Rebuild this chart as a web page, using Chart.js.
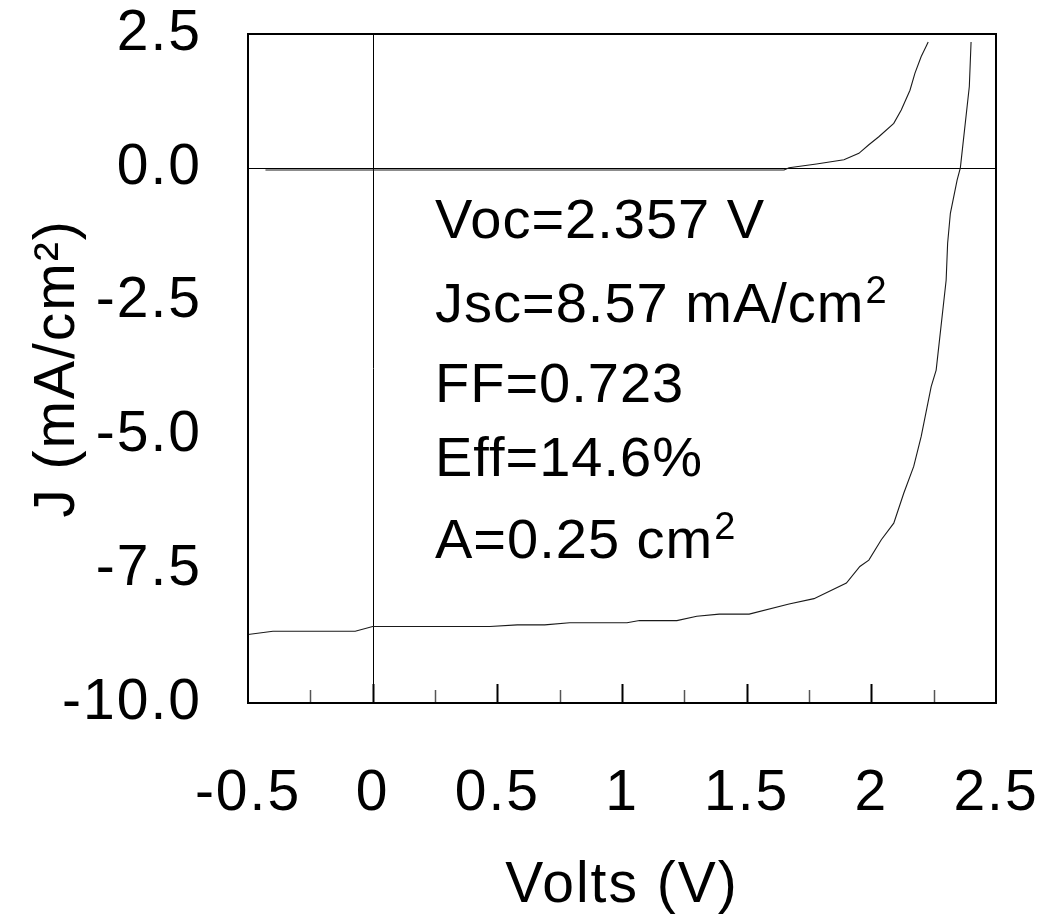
<!DOCTYPE html>
<html>
<head>
<meta charset="utf-8">
<title>J–V curve</title>
<script src="https://cdn.jsdelivr.net/npm/chart.js@4/dist/chart.umd.min.js"></script>
<style>
  html, body { margin: 0; padding: 0; background: #ffffff; }
  #wrap { width: 1042px; height: 922px; }
</style>
</head>
<body>
<div id="wrap"><canvas id="jv" width="1042" height="922"></canvas></div>
<script>
// Illuminated J–V sweep (V in volts, J in mA/cm²)
const lightVolts = [-0.50, -0.40, -0.07, 0.00, 0.04, 0.47, 0.58, 0.69, 0.79, 1.02, 1.07, 1.22, 1.30, 1.39, 1.51, 1.67, 1.77, 1.90, 1.954, 1.99, 2.04, 2.09, 2.13, 2.17, 2.20, 2.24, 2.26, 2.30, 2.306, 2.317, 2.344, 2.357, 2.393, 2.40];
const lightJ     = [-8.72, -8.66, -8.66, -8.57, -8.57, -8.57, -8.54, -8.54, -8.50, -8.50, -8.46, -8.46, -8.38, -8.34, -8.34, -8.15, -8.05, -7.76, -7.45, -7.33, -6.95, -6.64, -6.08, -5.58, -5.02, -4.09, -3.78, -2.10, -1.41, -0.85, -0.23, 0.00, 1.52, 2.35];

// Dark J–V sweep
const darkVolts = [-0.43, 0.50, 1.20, 1.65, 1.67, 1.78, 1.89, 1.95, 1.99, 2.03, 2.09, 2.12, 2.155, 2.175, 2.20, 2.22, 2.228];
const darkJ     = [-0.04, -0.04, -0.04, -0.04, 0.00, 0.07, 0.15, 0.27, 0.43, 0.58, 0.83, 1.08, 1.45, 1.77, 2.08, 2.27, 2.35];

// Cell parameters printed inside the plot
const cellParams = [
  { text: 'Voc=2.357 V', sup: '' },
  { text: 'Jsc=8.57 mA/cm', sup: '2' },
  { text: 'FF=0.723', sup: '' },
  { text: 'Eff=14.6%', sup: '' },
  { text: 'A=0.25 cm', sup: '2' }
];

const FONT = '"Liberation Sans", Arial, Helvetica, sans-serif';

const toPoints = (xs, ys) => xs.map((x, i) => ({ x: x, y: ys[i] }));

// Keep the plot box fixed: tick labels may overhang the page margins
const noOverhang = s => { s.paddingLeft = 0; s.paddingRight = 0; s.paddingTop = 0; s.paddingBottom = 0; };

// Slightly open letter spacing for all axis text
const spacingPlugin = {
  id: 'spacing',
  beforeLayout(chart) { chart.ctx.letterSpacing = '2px'; },
  beforeDraw(chart) { chart.ctx.letterSpacing = '2px'; }
};

// Box, zero axes and inward minor/major ticks along the bottom edge
const framePlugin = {
  id: 'frame',
  beforeDatasetsDraw(chart) {
    const { ctx, chartArea: a, scales: { x, y } } = chart;
    ctx.save();
    ctx.strokeStyle = '#000';
    ctx.lineWidth = 1;
    const y0 = Math.round(y.getPixelForValue(0)) + 0.5;
    const x0 = Math.round(x.getPixelForValue(0)) + 0.5;
    ctx.beginPath();
    ctx.moveTo(a.left, y0); ctx.lineTo(a.right, y0);
    ctx.moveTo(x0, a.top); ctx.lineTo(x0, a.bottom);
    ctx.stroke();
    ctx.restore();
  },
  afterDatasetsDraw(chart) {
    const { ctx, chartArea: a, scales: { x } } = chart;
    ctx.save();
    for (let k = -1; k <= 9; k++) {
      const v = k * 0.25;
      const px = Math.round(x.getPixelForValue(v)) + 0.5;
      const major = k % 2 === 0;
      ctx.lineWidth = major ? 2 : 1.5;
      ctx.strokeStyle = major ? '#000' : '#555';
      ctx.beginPath();
      ctx.moveTo(px, a.bottom);
      ctx.lineTo(px, a.bottom - (major ? 19 : 13));
      ctx.stroke();
    }
    ctx.strokeStyle = '#000';
    ctx.lineWidth = 2;
    ctx.strokeRect(a.left, a.top, a.right - a.left, a.bottom - a.top);
    ctx.restore();
  }
};

// Parameter block, with superscripts for the unit exponents
const paramsPlugin = {
  id: 'params',
  afterDraw(chart) {
    const { ctx, scales: { x } } = chart;
    const left = x.getPixelForValue(0.25);
    const baselines = [238, 322, 402, 476, 558];
    ctx.save();
    ctx.fillStyle = '#000';
    ctx.letterSpacing = '1px';
    ctx.textBaseline = 'alphabetic';
    ctx.textAlign = 'left';
    cellParams.forEach((p, i) => {
      ctx.font = '56px ' + FONT;
      ctx.fillText(p.text, left, baselines[i]);
      if (p.sup) {
        const w = ctx.measureText(p.text).width;
        ctx.font = '38px ' + FONT;
        ctx.fillText(p.sup, left + w + 1, baselines[i] - 19);
      }
    });
    ctx.restore();
  }
};

new Chart(document.getElementById('jv'), {
  type: 'scatter',
  data: {
    datasets: [
      {
        label: 'Light',
        data: toPoints(lightVolts, lightJ),
        showLine: true,
        borderColor: '#1a1a1a',
        borderWidth: 1.1,
        pointRadius: 0,
        tension: 0
      },
      {
        label: 'Dark',
        data: toPoints(darkVolts, darkJ),
        showLine: true,
        borderColor: '#1a1a1a',
        borderWidth: 1.1,
        pointRadius: 0,
        tension: 0
      }
    ]
  },
  options: {
    responsive: false,
    animation: false,
    devicePixelRatio: 1,
    layout: { padding: { top: 34, right: 46, left: 0, bottom: 0 } },
    plugins: { legend: { display: false }, tooltip: { enabled: false } },
    scales: {
      x: {
        type: 'linear',
        min: -0.5,
        max: 2.5,
        afterFit(s) { s.height = 219; noOverhang(s); },
        grid: { display: false, drawTicks: false },
        border: { display: false },
        ticks: {
          stepSize: 0.5,
          autoSkip: false,
          maxRotation: 0,
          padding: 57,
          color: '#000',
          font: { family: FONT, size: 57 },
          callback: v => String(+(+v).toFixed(2))
        },
        title: {
          display: true,
          text: 'Volts (V)',
          color: '#000',
          font: { family: FONT, size: 57 },
          padding: { top: 0, bottom: 2 }
        }
      },
      y: {
        type: 'linear',
        min: -10,
        max: 2.5,
        afterFit(s) { s.width = 248; noOverhang(s); },
        grid: { display: false, drawTicks: false },
        border: { display: false },
        ticks: {
          stepSize: 2.5,
          autoSkip: false,
          padding: 46,
          color: '#000',
          font: { family: FONT, size: 57 },
          callback: v => (+v).toFixed(1)
        },
        title: {
          display: true,
          text: 'J (mA/cm²)',
          color: '#000',
          font: { family: FONT, size: 57 },
          padding: { top: 24, bottom: 0 }
        }
      }
    }
  },
  plugins: [spacingPlugin, framePlugin, paramsPlugin]
});
</script>
</body>
</html>
